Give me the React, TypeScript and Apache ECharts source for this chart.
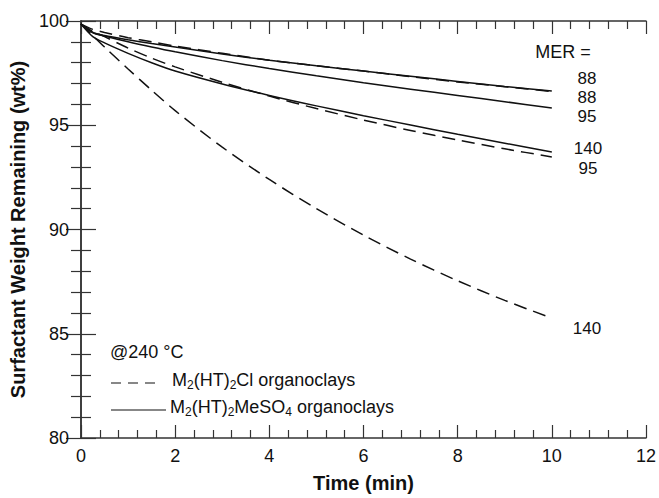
import React, { useEffect, useRef } from 'react';
import * as echarts from 'echarts';

const times = [0, 0.25, 0.5, 1, 1.5, 2, 3, 4, 5, 6, 7, 8, 9, 10];
// M2(HT)2Cl organoclays (dashed)
const clMer88 = [99.85, 99.6, 99.45, 99.2, 99.0, 98.8, 98.45, 98.12, 97.85, 97.6, 97.33, 97.08, 96.85, 96.62];
const clMer95 = [99.85, 99.5, 99.25, 98.7, 98.22, 97.8, 97.06, 96.4, 95.8, 95.25, 94.75, 94.29, 93.87, 93.48];
const clMer140 = [99.85, 99.3, 98.75, 97.7, 96.68, 95.7, 93.95, 92.4, 91.0, 89.73, 88.58, 87.54, 86.6, 85.75];
// M2(HT)2MeSO4 organoclays (solid)
const soMer88 = [99.85, 99.45, 99.3, 99.1, 98.92, 98.75, 98.42, 98.12, 97.85, 97.6, 97.35, 97.1, 96.86, 96.64];
const soMer95 = [99.85, 99.45, 99.28, 99.0, 98.75, 98.52, 98.1, 97.72, 97.37, 97.04, 96.73, 96.43, 96.13, 95.83];
const soMer140 = [99.85, 99.25, 98.95, 98.45, 98.0, 97.6, 96.98, 96.43, 95.93, 95.46, 95.01, 94.57, 94.14, 93.72];

const merLabels = ['88', '88', '95', '140', '95', '140'];

const FONT = 'Liberation Sans, Arial, Helvetica, sans-serif';
const INK = '#111';
const AXIS = '#333';

function pairs(vals: number[]) {
  return times.map((t, i) => [t, vals[i]]);
}

export default function App() {
  const ref = useRef<HTMLDivElement>(null);
  useEffect(() => {
    document.body.style.margin = '0';
    const chart = echarts.init(ref.current!, null, { renderer: 'svg' });

    const axisCommon = {
      type: 'value' as const,
      axisLine: { show: true, lineStyle: { color: AXIS, width: 1.5 } },
      splitLine: { show: false },
      minorSplitLine: { show: false },
    };

    const dashed = (vals: number[]) => ({
      type: 'line',
      data: pairs(vals),
      showSymbol: false,
      smooth: 0.3,
      lineStyle: { color: INK, width: 1.5, type: [13, 7] },
      silent: true,
    });
    const solid = (vals: number[]) => ({
      type: 'line',
      data: pairs(vals),
      showSymbol: false,
      smooth: 0.3,
      lineStyle: { color: INK, width: 1.5, type: 'solid' },
      silent: true,
    });

    const labelPos = [
      [587, 78],
      [587, 97],
      [587, 116],
      [588, 148],
      [588, 168],
      [587, 328],
    ];

    const textStyle = { fontFamily: FONT, fontSize: 18, fill: '#111' };

    chart.setOption({
      animation: false,
      backgroundColor: '#fff',
      grid: { left: 81, right: 12, top: 21, bottom: 54 },
      xAxis: [
        {
          ...axisCommon,
          position: 'bottom',
          min: 0,
          max: 12,
          interval: 2,
          axisTick: { show: true, inside: true, length: 13, lineStyle: { color: AXIS, width: 1.2 } },
          minorTick: { show: true, splitNumber: 5, length: 8, lineStyle: { color: AXIS, width: 1.2 } },
          axisLabel: { fontFamily: FONT, fontSize: 18, color: '#111', margin: 9 },
          name: 'Time (min)',
          nameLocation: 'middle',
          nameGap: 35,
          nameTextStyle: { fontFamily: FONT, fontSize: 20, fontWeight: 'bold', color: '#111' },
        },
        {
          ...axisCommon,
          position: 'top',
          min: 0,
          max: 12,
          interval: 2,
          axisTick: { show: true, inside: true, length: 13, lineStyle: { color: AXIS, width: 1.2 } },
          minorTick: { show: true, splitNumber: 5, length: 8, lineStyle: { color: AXIS, width: 1.2 } },
          axisLabel: { show: false },
        },
      ],
      yAxis: [
        {
          ...axisCommon,
          position: 'left',
          min: 80,
          max: 100,
          interval: 5,
          axisTick: { show: true, inside: true, length: 15, lineStyle: { color: AXIS, width: 1.2 } },
          minorTick: { show: true, splitNumber: 5, length: 10, lineStyle: { color: AXIS, width: 1.2 } },
          axisLabel: { fontFamily: FONT, fontSize: 18, color: '#111', margin: 12 },
          name: 'Surfactant Weight Remaining (wt%)',
          nameLocation: 'middle',
          nameGap: 45,
          nameTextStyle: { fontFamily: FONT, fontSize: 20, fontWeight: 'bold', color: '#111' },
        },
        {
          ...axisCommon,
          position: 'right',
          min: 80,
          max: 100,
          interval: 5,
          axisTick: { show: true, inside: true, length: 15, lineStyle: { color: AXIS, width: 1.2 } },
          minorTick: { show: true, splitNumber: 5, length: 10, lineStyle: { color: AXIS, width: 1.2 } },
          axisLabel: { show: false },
        },
      ],
      series: [
        dashed(clMer88),
        dashed(clMer95),
        dashed(clMer140),
        solid(soMer88),
        solid(soMer95),
        solid(soMer140),
      ],
      graphic: [
        {
          type: 'text',
          x: 563,
          y: 52,
          style: { ...textStyle, text: 'MER =', align: 'center', verticalAlign: 'middle' },
        },
        ...merLabels.map((t, i) => ({
          type: 'text',
          x: labelPos[i][0],
          y: labelPos[i][1],
          style: { ...textStyle, fontSize: 17, text: t, align: 'center', verticalAlign: 'middle' },
        })),
        {
          type: 'text',
          x: 110,
          y: 352,
          style: { ...textStyle, text: '@240 °C', align: 'left', verticalAlign: 'middle' },
        },
        {
          type: 'line',
          shape: { x1: 111, y1: 383, x2: 162, y2: 383 },
          style: { stroke: INK, lineWidth: 1.2, lineDash: [10, 7] },
        },
        {
          type: 'line',
          shape: { x1: 111, y1: 410, x2: 166, y2: 410 },
          style: { stroke: INK, lineWidth: 1.2 },
        },
        {
          type: 'text',
          x: 172,
          y: 380,
          style: {
            ...textStyle,
            text: 'M{s|2}(HT){s|2}Cl organoclays',
            align: 'left',
            verticalAlign: 'middle',
            lineHeight: 22,
            rich: {
              s: { fontFamily: FONT, fontSize: 12, fill: '#111', verticalAlign: 'bottom', lineHeight: 10 },
            },
          },
        },
        {
          type: 'text',
          x: 170,
          y: 407,
          style: {
            ...textStyle,
            text: 'M{s|2}(HT){s|2}MeSO{s|4} organoclays',
            align: 'left',
            verticalAlign: 'middle',
            lineHeight: 22,
            rich: {
              s: { fontFamily: FONT, fontSize: 12, fill: '#111', verticalAlign: 'bottom', lineHeight: 10 },
            },
          },
        },
      ],
    });
    return () => chart.dispose();
  }, []);
  return <div ref={ref} style={{ width: 659, height: 498 }} />;
}
